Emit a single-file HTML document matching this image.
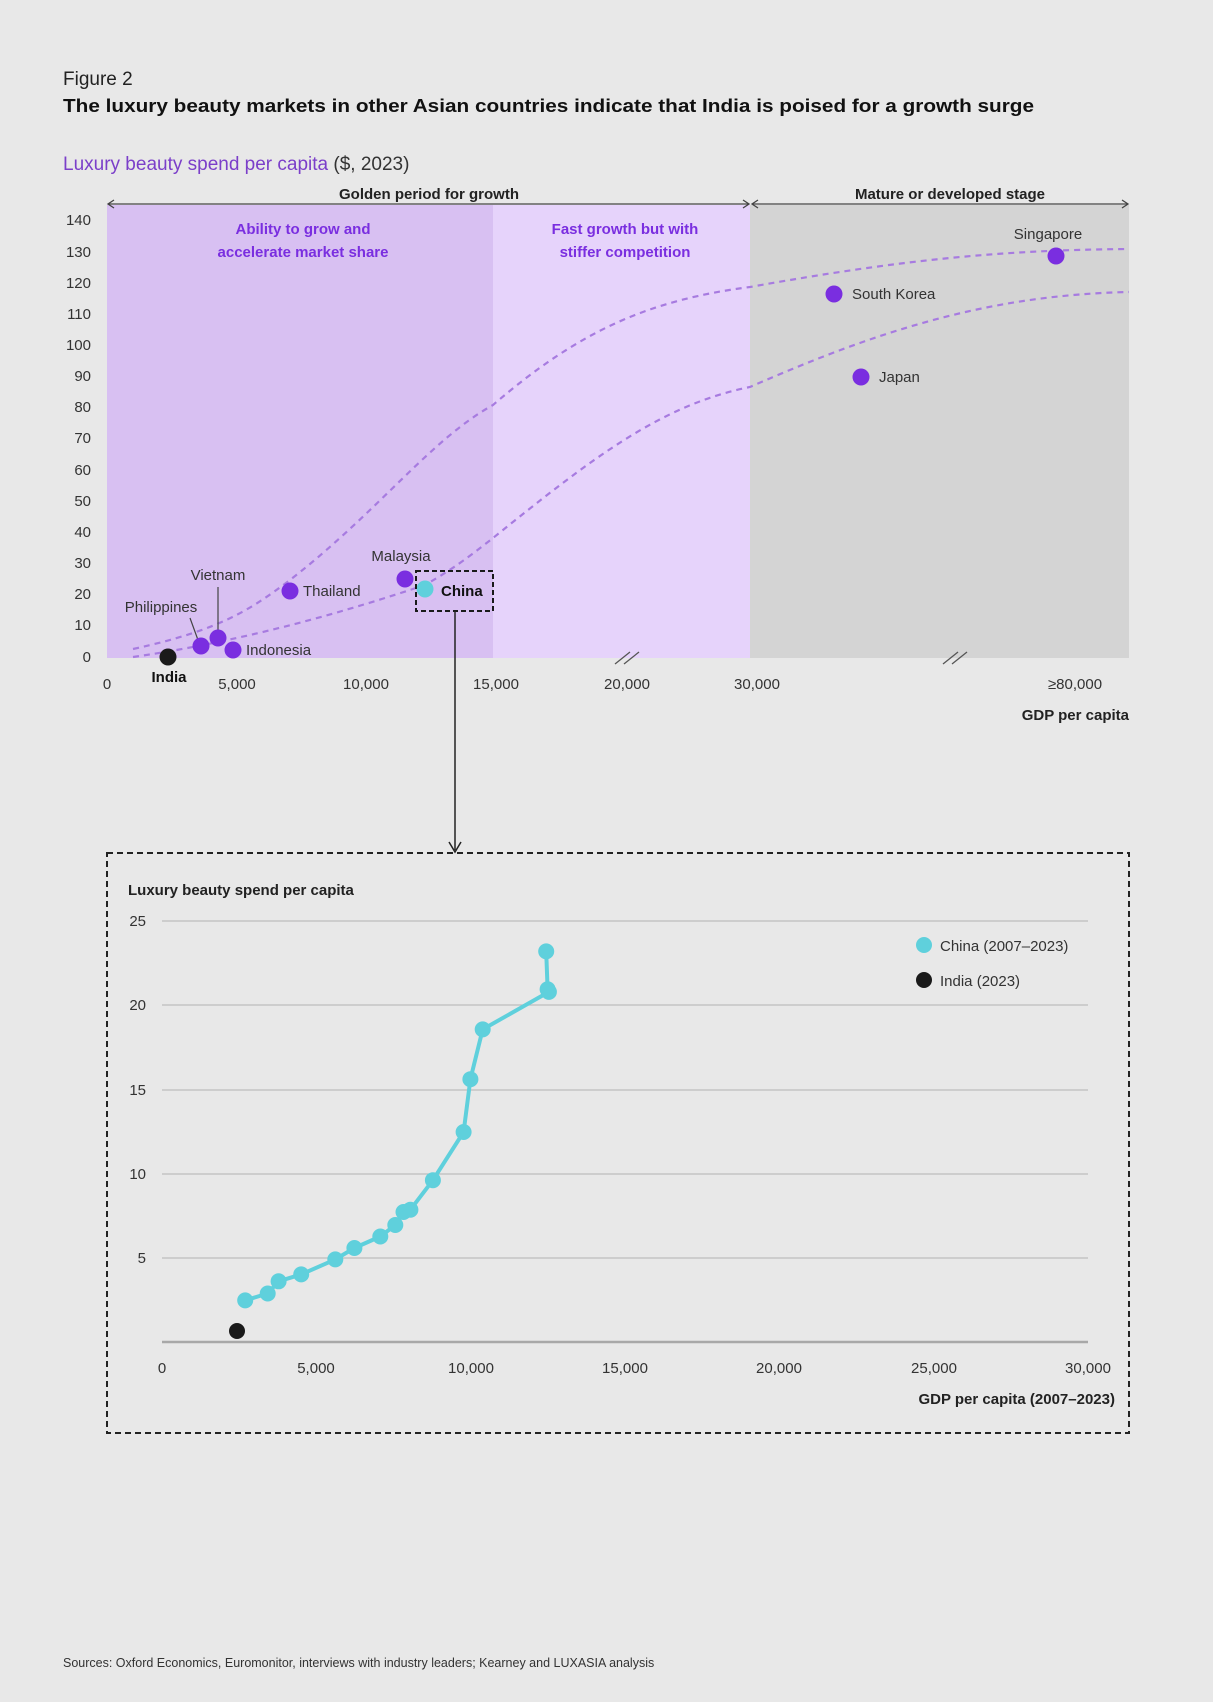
<!DOCTYPE html>
<html><head><meta charset="utf-8"><style>
body{margin:0;background:#e8e8e8;}
svg{display:block;font-family:"Liberation Sans",sans-serif;}
</style></head><body>
<svg width="1213" height="1702" viewBox="0 0 1213 1702" xmlns="http://www.w3.org/2000/svg">
<rect width="1213" height="1702" fill="#e8e8e8"/>
<text x="63" y="85" font-size="19" fill="#222">Figure 2</text>
<text x="63" y="112" font-size="18.5" font-weight="bold" fill="#111" textLength="971" lengthAdjust="spacingAndGlyphs">The luxury beauty markets in other Asian countries indicate that India is poised for a growth surge</text>
<text x="63" y="170" font-size="19" fill="#7b3fc9">Luxury beauty spend per capita <tspan fill="#333">($, 2023)</tspan></text>
<rect x="107" y="205" width="386" height="453" fill="#d8c0f2"/>
<rect x="493" y="205" width="257" height="453" fill="#e6d3fb"/>
<rect x="750" y="205" width="379" height="453" fill="#d4d4d4"/>
<g stroke="#444" stroke-width="1.3" fill="none">
<line x1="108" y1="204" x2="749" y2="204"/><path d="M114 200 L108 204 L114 208"/><path d="M743 200 L749 204 L743 208"/>
<line x1="752" y1="204" x2="1128" y2="204"/><path d="M758 200 L752 204 L758 208"/><path d="M1122 200 L1128 204 L1122 208"/>
</g>
<text x="429" y="199" font-size="15" font-weight="bold" text-anchor="middle" fill="#222">Golden period for growth</text>
<text x="950" y="199" font-size="15" font-weight="bold" text-anchor="middle" fill="#222">Mature or developed stage</text>
<text x="303" y="234" font-size="15" font-weight="bold" text-anchor="middle" fill="#7a2ee0">Ability to grow and</text>
<text x="303" y="257" font-size="15" font-weight="bold" text-anchor="middle" fill="#7a2ee0">accelerate market share</text>
<text x="625" y="234" font-size="15" font-weight="bold" text-anchor="middle" fill="#7a2ee0">Fast growth but with</text>
<text x="625" y="257" font-size="15" font-weight="bold" text-anchor="middle" fill="#7a2ee0">stiffer competition</text>
<g font-size="15" fill="#333" text-anchor="end">
<text x="91" y="225">140</text><text x="91" y="257">130</text><text x="91" y="288">120</text><text x="91" y="319">110</text><text x="91" y="350">100</text><text x="91" y="381">90</text><text x="91" y="412">80</text><text x="91" y="443">70</text><text x="91" y="475">60</text><text x="91" y="506">50</text><text x="91" y="537">40</text><text x="91" y="568">30</text><text x="91" y="599">20</text><text x="91" y="630">10</text><text x="91" y="662">0</text>
</g>
<g font-size="15" fill="#333" text-anchor="middle">
<text x="107" y="689">0</text><text x="237" y="689">5,000</text><text x="366" y="689">10,000</text><text x="496" y="689">15,000</text><text x="627" y="689">20,000</text><text x="757" y="689">30,000</text><text x="1075" y="689">≥80,000</text>
</g>
<text x="1129" y="720" font-size="15" font-weight="bold" text-anchor="end" fill="#222">GDP per capita</text>
<g stroke="#555" stroke-width="1.3"><line x1="615" y1="664" x2="630" y2="652"/><line x1="624" y1="664" x2="639" y2="652"/><line x1="943" y1="664" x2="958" y2="652"/><line x1="952" y1="664" x2="967" y2="652"/></g>
<g fill="none" stroke="#a77be0" stroke-width="2.2" stroke-dasharray="6,5">
<path d="M133 649 C220 630 250 610 290 580 C380 510 430 440 493 405 C580 330 650 300 750 287 C900 260 1000 250 1129 249"/>
<path d="M133 657 C250 640 350 610 425 585 C460 565 480 548 493 538 C590 460 660 405 750 387 C880 330 990 295 1129 292"/>
</g>
<g stroke="#444" stroke-width="1.2"><line x1="218" y1="587" x2="218" y2="630"/><line x1="190" y1="618" x2="198" y2="640"/></g>
<g fill="#7a2ee0">
<circle cx="201" cy="646" r="8.5"/><circle cx="218" cy="638" r="8.5"/><circle cx="233" cy="650" r="8.5"/><circle cx="290" cy="591" r="8.5"/><circle cx="405" cy="579" r="8.5"/><circle cx="834" cy="294" r="8.5"/><circle cx="861" cy="377" r="8.5"/><circle cx="1056" cy="256" r="8.5"/>
</g>
<circle cx="168" cy="657" r="8.5" fill="#1a1a1a"/>
<circle cx="425" cy="589" r="8.5" fill="#5fd0dc"/>
<rect x="416" y="571" width="77" height="40" fill="none" stroke="#1a1a1a" stroke-width="2" stroke-dasharray="5,3"/>
<g font-size="15" fill="#333">
<text x="1048" y="239" text-anchor="middle">Singapore</text>
<text x="852" y="299">South Korea</text>
<text x="879" y="382">Japan</text>
<text x="303" y="596">Thailand</text>
<text x="401" y="561" text-anchor="middle">Malaysia</text>
<text x="218" y="580" text-anchor="middle">Vietnam</text>
<text x="161" y="612" text-anchor="middle">Philippines</text>
<text x="246" y="655">Indonesia</text>
</g>
<text x="169" y="682" font-size="15" font-weight="bold" text-anchor="middle" fill="#111">India</text>
<text x="441" y="596" font-size="15" font-weight="bold" fill="#111">China</text>
<line x1="455" y1="611" x2="455" y2="850" stroke="#222" stroke-width="1.5"/>
<path d="M449 842 L455 852 L461 842" fill="none" stroke="#222" stroke-width="1.5"/>
<rect x="107" y="853" width="1022" height="580" fill="none" stroke="#222" stroke-width="2" stroke-dasharray="6,4"/>
<text x="128" y="895" font-size="15" font-weight="bold" fill="#222">Luxury beauty spend per capita</text>
<g stroke="#bdbdbd" stroke-width="1.2">
<line x1="162" y1="921" x2="1088" y2="921"/><line x1="162" y1="1005" x2="1088" y2="1005"/><line x1="162" y1="1090" x2="1088" y2="1090"/><line x1="162" y1="1174" x2="1088" y2="1174"/><line x1="162" y1="1258" x2="1088" y2="1258"/>
</g>
<line x1="162" y1="1342" x2="1088" y2="1342" stroke="#a8a8a8" stroke-width="2.5"/>
<g font-size="15" fill="#333" text-anchor="end">
<text x="146" y="926">25</text><text x="146" y="1010">20</text><text x="146" y="1095">15</text><text x="146" y="1179">10</text><text x="146" y="1263">5</text>
</g>
<g font-size="15" fill="#333" text-anchor="middle">
<text x="162" y="1373">0</text><text x="316" y="1373">5,000</text><text x="471" y="1373">10,000</text><text x="625" y="1373">15,000</text><text x="779" y="1373">20,000</text><text x="934" y="1373">25,000</text><text x="1088" y="1373">30,000</text>
</g>
<text x="1115" y="1404" font-size="15" font-weight="bold" text-anchor="end" fill="#222">GDP per capita (2007–2023)</text>
<polyline fill="none" stroke="#5fd0dc" stroke-width="4" stroke-linejoin="round" points="245.2,1300.4 267.7,1293.5 278.6,1281.3 301.2,1274.4 335.3,1259.4 354.4,1248 380.3,1236.5 395.3,1225 403.5,1212 410.4,1209.7 432.9,1180.2 463.6,1132 470.4,1079.2 482.7,1029.4 548.9,991.9 547.6,989.3 546.2,951.4"/>
<g fill="#5fd0dc">
<circle cx="245.2" cy="1300.4" r="8"/><circle cx="267.7" cy="1293.5" r="8"/><circle cx="278.6" cy="1281.3" r="8"/><circle cx="301.2" cy="1274.4" r="8"/><circle cx="335.3" cy="1259.4" r="8"/><circle cx="354.4" cy="1248" r="8"/><circle cx="380.3" cy="1236.5" r="8"/><circle cx="395.3" cy="1225" r="8"/><circle cx="403.5" cy="1212" r="8"/><circle cx="410.4" cy="1209.7" r="8"/><circle cx="432.9" cy="1180.2" r="8"/><circle cx="463.6" cy="1132" r="8"/><circle cx="470.4" cy="1079.2" r="8"/><circle cx="482.7" cy="1029.4" r="8"/><circle cx="548.9" cy="991.9" r="8"/><circle cx="547.6" cy="989.3" r="8"/><circle cx="546.2" cy="951.4" r="8"/>
<circle cx="924" cy="945" r="8"/>
</g>
<circle cx="237" cy="1331" r="8" fill="#1a1a1a"/>
<circle cx="924" cy="980" r="8" fill="#1a1a1a"/>
<text x="940" y="951" font-size="15" fill="#333">China (2007–2023)</text>
<text x="940" y="986" font-size="15" fill="#333">India (2023)</text>
<text x="63" y="1667" font-size="12.5" fill="#333">Sources: Oxford Economics, Euromonitor, interviews with industry leaders; Kearney and LUXASIA analysis</text>
</svg>
</body></html>
